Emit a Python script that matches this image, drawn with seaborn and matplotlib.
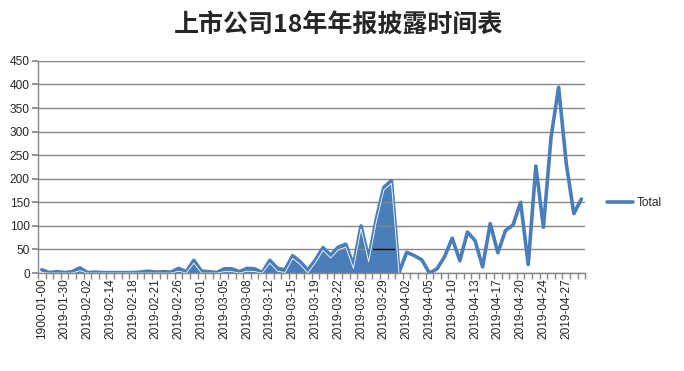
import matplotlib
matplotlib.use("Agg")
import matplotlib.pyplot as plt
import numpy as np
import pandas as pd
import seaborn as sns

# disclosure dates (only every third one is labelled on the axis)
dates = [
    "1900-01-00", "2019-01-18", "2019-01-29", "2019-01-30", "2019-01-31", "2019-02-01",
    "2019-02-02", "2019-02-12", "2019-02-13", "2019-02-14", "2019-02-15", "2019-02-16",
    "2019-02-18", "2019-02-19", "2019-02-20", "2019-02-21", "2019-02-22", "2019-02-25",
    "2019-02-26", "2019-02-27", "2019-02-28", "2019-03-01", "2019-03-02", "2019-03-04",
    "2019-03-05", "2019-03-06", "2019-03-07", "2019-03-08", "2019-03-09", "2019-03-11",
    "2019-03-12", "2019-03-13", "2019-03-14", "2019-03-15", "2019-03-16", "2019-03-18",
    "2019-03-19", "2019-03-20", "2019-03-21", "2019-03-22", "2019-03-23", "2019-03-25",
    "2019-03-26", "2019-03-27", "2019-03-28", "2019-03-29", "2019-03-30", "2019-04-01",
    "2019-04-02", "2019-04-03", "2019-04-04", "2019-04-05", "2019-04-08", "2019-04-09",
    "2019-04-10", "2019-04-11", "2019-04-12", "2019-04-13", "2019-04-15", "2019-04-16",
    "2019-04-17", "2019-04-18", "2019-04-19", "2019-04-20", "2019-04-22", "2019-04-23",
    "2019-04-24", "2019-04-25", "2019-04-26", "2019-04-27", "2019-04-29", "2019-04-30",
]
totals = [
    7, 1, 3, 1, 3, 11, 1, 2, 1, 1, 1, 1,
    1, 2, 4, 2, 3, 2, 10, 3, 27, 4, 3, 1,
    9, 9, 3, 10, 9, 1, 27, 10, 7, 37, 24, 6,
    28, 54, 38, 55, 61, 16, 100, 30, 114, 182, 196, 1,
    44, 37, 28, 0, 9, 35, 74, 26, 87, 69, 13, 105,
    43, 90, 102, 150, 18, 227, 97, 288, 394, 233, 126, 157,
]
# Excel rendered the first part of the series as a filled area
filled_until = 47

df = pd.DataFrame({"date": dates, "Total": totals})
df["pos"] = np.arange(len(df))

sns.set_theme(style="white")
plt.rcParams["font.family"] = ["Liberation Sans", "DejaVu Sans"]

blue = "#4a7ebb"
grid_gray = "#878787"

fig = plt.figure(figsize=(6.84, 3.71), dpi=100)
ax = fig.add_axes([0.0556, 0.264, 0.8, 0.572])

part = df[df["pos"] <= filled_until]
ax.fill_between(part["pos"], 0, part["Total"], color=blue, linewidth=0, zorder=1)
ax.plot(part["pos"], np.clip(part["Total"] - 6, 0, None), color="white", lw=0.6, zorder=3.2)

sns.lineplot(data=df, x="pos", y="Total", color=blue, lw=2.6, ax=ax, label="Total",
             zorder=3)

ax.set_xlim(-0.5, len(df) - 0.5)
ax.set_ylim(0, 450)
ax.set_yticks(np.arange(0, 451, 50))
ax.set_xticks(df["pos"][::3])
ax.set_xticklabels(df["date"][::3], rotation=90, fontsize=8.6)
ax.set_xticks(np.arange(-0.5, len(df), 1), minor=True)
ax.tick_params(axis="y", labelsize=8.6, length=4, color=grid_gray, direction="out", left=True, pad=2)
ax.tick_params(axis="x", which="major", length=0, pad=4)
ax.tick_params(axis="x", which="minor", length=4, color=grid_gray, direction="out", bottom=True)
ax.set_xlabel("")
ax.set_ylabel("")

ax.set_axisbelow(False)
ax.yaxis.grid(True, color=grid_gray, lw=1)
ax.xaxis.grid(False)
ax.axhline(50, xmin=(43.6 + 0.5) / len(df), xmax=(46.6 + 0.5) / len(df), color="black", lw=1, zorder=2.6)

for side in ["top", "right"]:
    ax.spines[side].set_visible(False)
for side in ["left", "bottom"]:
    ax.spines[side].set_color(grid_gray)
    ax.spines[side].set_linewidth(1)
    ax.spines[side].set_zorder(4)

ax.legend(loc="center left", bbox_to_anchor=(1.02, 0.33), frameon=False, fontsize=8.6,
          handlelength=2.2, handletextpad=0.3)

fig.text(0.495, 0.93, "上市公司18年年报披露时间表", ha="center", va="center", fontsize=18,
         fontweight="bold", family=["Noto Sans CJK SC", "DejaVu Sans"])

fig.savefig("out.png", dpi=100)
